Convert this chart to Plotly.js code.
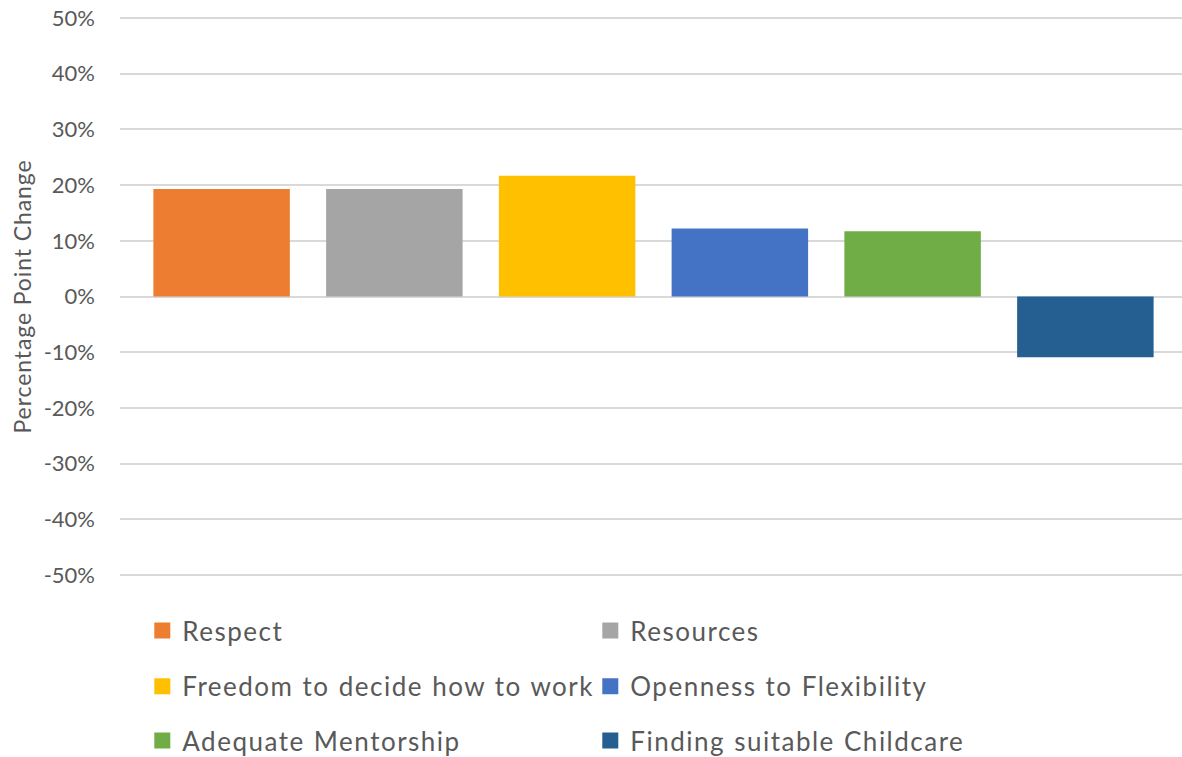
<!DOCTYPE html>
<html>
<head>
<meta charset="utf-8">
<script src="https://cdn.plot.ly/plotly-3.0.1.min.js"></script>
<style>
html,body{margin:0;padding:0;background:#fff;}
#chart{width:1182px;height:757px;position:relative;}
#chart .infolayer g[class^="legend"] text{letter-spacing:1.5px !important; word-spacing:1px !important;}
#chart text.ytitle{letter-spacing:0.9px;}
</style>
</head>
<body>
<div id="chart"></div>
<script>
const seriesNames = ["Respect", "Resources", "Freedom to decide how to work", "Openness to Flexibility", "Adequate Mentorship", "Finding suitable Childcare"];
const seriesValues = [0.193, 0.193, 0.217, 0.122, 0.117, -0.109];
const seriesColors = ["#ED7D31", "#A5A5A5", "#FFC000", "#4472C4", "#70AD47", "#255E91"];
const category = ["All"];
const tickValues = [-0.5, -0.4, -0.3, -0.2, -0.1, 0, 0.1, 0.2, 0.3, 0.4, 0.5];
const tickLabels = ["-50%", "-40%", "-30%", "-20%", "-10%", "0%", "10%", "20%", "30%", "40%", "50%"];

const FONT = "Lato, 'Open Sans', sans-serif";
const legendIds = ["legend", "legend", "legend2", "legend2", "legend3", "legend3"];

const traces = [];
seriesNames.forEach((name, i) => {
  traces.push({
    type: "bar",
    x: category,
    y: [seriesValues[i]],
    name: name,
    marker: {color: seriesColors[i]},
    showlegend: false,
    legendgroup: name,
    hoverinfo: "name+y"
  });
});
seriesNames.forEach((name, i) => {
  traces.push({
    type: "scatter",
    mode: "markers",
    x: [null],
    y: [null],
    name: name,
    legendgroup: name,
    legend: legendIds[i],
    marker: {symbol: "square", size: 16, color: seriesColors[i]},
    showlegend: true
  });
});

const legendBase = {
  orientation: "h",
  entrywidth: 403,
  entrywidthmode: "pixels",
  xanchor: "left",
  yanchor: "middle",
  x: 0.021,
  bgcolor: "rgba(0,0,0,0)",
  borderwidth: 0,
  font: {family: FONT, size: 26, color: "#595959"},
  itemclick: false,
  itemdoubleclick: false
};

const layout = {
  width: 1182,
  height: 757,
  margin: {l: 120, r: 0, t: 17, b: 181, autoexpand: false},
  paper_bgcolor: "#ffffff",
  plot_bgcolor: "#ffffff",
  barmode: "group",
  bargap: 0.024,
  bargroupgap: 0.21,
  font: {family: FONT, color: "#595959"},
  xaxis: {
    type: "category",
    range: [-0.50235, 0.49765],
    showticklabels: false,
    showgrid: false,
    zeroline: false,
    showline: false,
    ticks: ""
  },
  yaxis: {
    range: [-0.502, 0.502],
    tickvals: tickValues,
    ticktext: tickLabels,
    showgrid: true,
    gridcolor: "#D9D9D9",
    gridwidth: 2,
    zeroline: false,
    showline: false,
    ticks: "",
    ticklabelstandoff: 24,
    tickfont: {family: FONT, size: 22, color: "#595959"},
    title: {text: "Percentage Point Change", font: {family: FONT, size: 23, color: "#595959"}, standoff: 5},
    automargin: false
  },
  legend: Object.assign({}, legendBase, {y: -0.0975}),
  legend2: Object.assign({}, legendBase, {y: -0.1973}),
  legend3: Object.assign({}, legendBase, {y: -0.2944}),
  showlegend: true
};

Plotly.newPlot("chart", traces, layout, {displayModeBar: false, staticPlot: true});
</script>
</body>
</html>
